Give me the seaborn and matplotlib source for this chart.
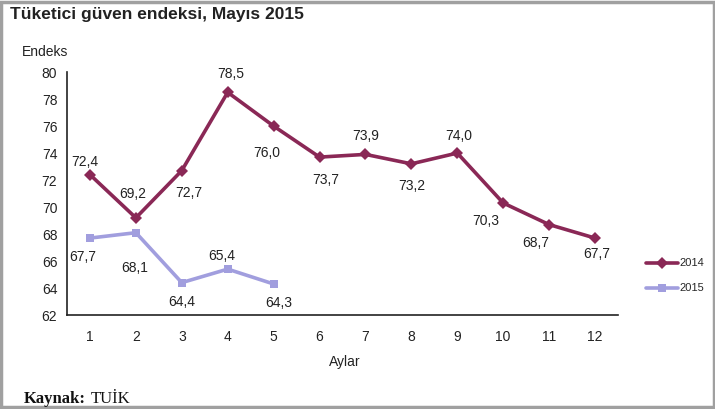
import matplotlib.pyplot as plt
import seaborn as sns
import pandas as pd
from matplotlib.patches import Rectangle

months = list(range(1, 13))
values_2014 = [72.4, 69.2, 72.7, 78.5, 76.0, 73.7, 73.9, 73.2, 74.0, 70.3, 68.7, 67.7]
values_2015 = [67.7, 68.1, 64.4, 65.4, 64.3]
y_ticks = [62, 64, 66, 68, 70, 72, 74, 76, 78, 80]

# label offsets (pixels) for each point
offs_2014 = [(-5, 13), (-3, 24), (7, -22), (3, 18), (-7, -27), (6, -23),
             (0, 18), (0, -22), (1, 17), (-17, -18), (-13, -18), (2, -16)]
offs_2015 = [(-7, -19), (-1, -35), (0, -19), (-6, 13), (5, -19)]

df = pd.DataFrame({
    'ay': months + months[:5],
    'deger': values_2014 + values_2015,
    'yil': ['2014'] * 12 + ['2015'] * 5,
})

sns.set_style('white')
plt.rcParams['font.family'] = ['Liberation Sans', 'DejaVu Sans']

col14 = '#8A2856'
col15 = '#A19EDE'

fig = plt.figure(figsize=(7.15, 4.09), dpi=100)
ax = fig.add_axes([0.0937, 0.2298, 0.7706, 0.594])

sns.lineplot(data=df, x='ay', y='deger', hue='yil', style='yil',
             palette={'2014': col14, '2015': col15},
             markers={'2014': 'D', '2015': 's'}, dashes=False,
             markersize=6, markeredgewidth=0, linewidth=2.6, ax=ax)

for x, v, (dx, dy) in zip(months, values_2014, offs_2014):
    ax.annotate(f'{v:.1f}'.replace('.', ','), (x, v), xytext=(dx, dy),
                textcoords='offset pixels', ha='center', va='center',
                fontsize=10, color='#222222')
for x, v, (dx, dy) in zip(months, values_2015, offs_2015):
    ax.annotate(f'{v:.1f}'.replace('.', ','), (x, v), xytext=(dx, dy),
                textcoords='offset pixels', ha='center', va='center',
                fontsize=10, color='#222222')

ax.set_xlim(0.5, 12.5)
ax.set_ylim(62, 80)
ax.set_xticks(months)
ax.set_xticks([12.5], minor=True)
ax.set_yticks(y_ticks)
ax.tick_params(axis='both', which='both', direction='out', length=3, width=1,
               color='#222222', labelsize=10, labelcolor='#222222', pad=8)
ax.tick_params(axis='y', pad=4)
for s in ['top', 'right']:
    ax.spines[s].set_visible(False)
for s in ['left', 'bottom']:
    ax.spines[s].set_color('#222222')
    ax.spines[s].set_linewidth(1.2)
ax.set_xlabel('')
ax.set_ylabel('')

sns.move_legend(ax, loc='upper left', bbox_to_anchor=(642 / 715, 1 - 254 / 409),
                bbox_transform=fig.transFigure, title=None, frameon=False,
                fontsize=8, handlelength=2.8, handletextpad=0.2, labelspacing=1.35,
                borderaxespad=0)

fig.text(10 / 715, 1 - 15 / 409, 'Tüketici güven endeksi, Mayıs 2015',
         fontsize=12.5, fontweight='bold', color='#222222', va='center')
fig.text(22 / 715, 1 - 52 / 409, 'Endeks', fontsize=10, color='#222222', va='center')
fig.text(345 / 715, 1 - 362 / 409, 'Aylar', fontsize=10, color='#222222',
         va='center', ha='center')
fig.text(24 / 715, 1 - 399 / 409, 'Kaynak:', fontsize=12, fontweight='bold',
         family='Liberation Serif', color='#111111', va='center')
fig.text(91 / 715, 1 - 399 / 409, 'TUİK', fontsize=12,
         family='Liberation Serif', color='#111111', va='center')

fig.patches.append(Rectangle((0.002, 0.004), 0.996, 0.992, transform=fig.transFigure,
                             fill=False, edgecolor='#a0a0a0', linewidth=2.5))

fig.savefig('out.png', dpi=100)
